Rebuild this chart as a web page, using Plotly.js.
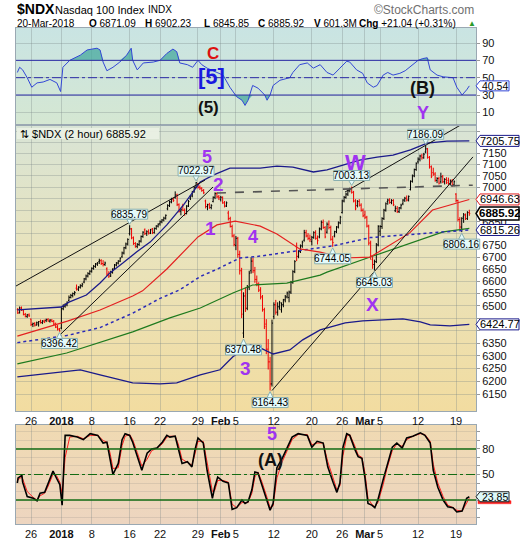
<!DOCTYPE html>
<html><head><meta charset="utf-8">
<script src="https://cdn.plot.ly/plotly-3.0.1.min.js"></script>
<style>
html,body{margin:0;padding:0;background:#fff;}
#wrap{position:relative;width:520px;height:540px;overflow:hidden;}
.bg{position:absolute;left:16px;width:460px;}
#chart{position:absolute;left:0;top:0;width:520px;height:540px;}
</style></head><body>
<div id="wrap">
<div class="bg" style="top:28px;height:97px;background:linear-gradient(#C9E4E3,#D5E7D2);"></div>
<div class="bg" style="top:125px;height:286px;background:linear-gradient(#D8E4D6,#E9E3BC 45%,#F2DCA0);"></div>
<div class="bg" style="top:425px;height:99px;background:linear-gradient(#F0DAB2,#EDD5C0);"></div>
<div id="chart"></div>
</div>
<script>
// ---------------- DATA ----------------
// 2-hour OHLC bars, 4 per trading day (Dec 21 2017 .. Mar 20 2018)
const open = [
6485,6471,6491,
6483,6465,6457,6463, 6446,6424,6428,6422, 6426,6436,6432,6438, 6441,6444,6438,6442,
6438,6426,6414,6406, 6410,6488,6498,6504, 6522,6534,6542,6550, 6572,6568,6576,6582,
6597,6610,6622,6632, 6642,6654,6662,6672, 6682,6686,6674,6670, 6652,6630,6622,6638,
6654,6668,6676,6684, 6702,6718,6740,6756, 6800,6820,6782,6758, 6746,6754,6768,6788,
6816,6800,6808,6802, 6820,6804,6822,6832, 6842,6850,6858,6866, 6906,6920,6936,6948,
6955,6966,6924,6896, 6918,6900,6886,6918, 6950,6962,6980,7000, 7014,7000,6996,6986,
6940,6916,6924,6912, 6938,6956,6972,6958, 6946,6956,6932,6918, 6888,6864,6830,6790,
6750,6780,6712,6644, 6390,6540,6490,6576, 6644,6684,6644,6608, 6584,6564,6536,6484,
6426,6326,6276,6190, 6456,6504,6474,6496, 6484,6504,6524,6536, 6534,6556,6596,6640,
6744,6704,6724,6748, 6772,6804,6790,6780, 6766,6784,6804,6780, 6786,6820,6848,6826,
6806,6840,6826,6776, 6790,6808,6828,6846, 6890,6940,6956,6970, 6988,6994,6978,6940,
6920,6938,6922,6900, 6880,6870,6832,6760, 6690,6670,6682,6752, 6810,6830,6864,6900,
6938,6944,6934,6942, 6898,6908,6894,6910, 6928,6944,6952,6944, 6990,7026,7050,7078,
7112,7124,7138,7130, 7156,7170,7132,7090, 7064,7058,7030,7038, 7024,7046,7024,7034,
7030,7016,7028,7010, 6970,6942,6860,6828, 6871.09,6880,6864,6890];
const high = [
6491,6497,6497,
6485,6471,6467,6469, 6448,6432,6434,6436, 6438,6444,6442,6444, 6448,6450,6446,6446,
6442,6432,6422,6410, 6494,6506,6510,6518, 6542,6548,6554,6560, 6587,6580,6588,6594,
6614,6628,6638,6646, 6658,6668,6676,6680, 6694,6692,6688,6682, 6658,6642,6644,6654,
6672,6680,6688,6700, 6724,6744,6762,6780, 6835.79,6824,6788,6764, 6760,6772,6792,6810,
6822,6814,6818,6820, 6824,6826,6836,6844, 6856,6862,6872,6882, 6926,6942,6954,6956,
6982,6972,6930,6910, 6928,6908,6922,6944, 6966,6984,7004,7022.97, 7018,7008,7000,6992,
6946,6928,6932,6926, 6960,6978,6978,6966, 6962,6960,6940,6938, 6898,6872,6838,6798,
6790,6786,6728,6656, 6555,6575,6585,6644, 6700,6698,6660,6624, 6596,6576,6544,6492,
6446,6366,6296,6444, 6514,6524,6514,6520, 6514,6528,6544,6558, 6562,6602,6646,6688,
6762,6730,6754,6770, 6816,6816,6802,6796, 6790,6810,6814,6792, 6826,6856,6860,6832,
6848,6856,6834,6790, 6812,6832,6852,6876, 6946,6962,6976,6990, 6998,7003.13,6984,6948,
6944,6948,6930,6908, 6898,6876,6838,6770, 6702,6690,6760,6836, 6836,6870,6906,6934,
6950,6952,6948,6948, 6920,6918,6914,6928, 6948,6958,6964,6964, 7030,7056,7082,7110,
7132,7144,7148,7152, 7186.09,7174,7138,7096, 7086,7066,7044,7046, 7064,7054,7040,7044,
7042,7034,7036,7030, 6974,6946,6870,6870, 6888,6886,6896,6902.23];
const low = [
6467,6469,6479,
6461,6453,6451,6455, 6418,6414,6416,6420, 6416,6428,6426,6430, 6434,6436,6432,6434,
6422,6410,6400,6396.42, 6405,6482,6492,6498, 6518,6530,6534,6542, 6562,6560,6570,6576,
6592,6604,6616,6626, 6636,6648,6656,6664, 6672,6668,6662,6664, 6622,6614,6618,6632,
6650,6662,6670,6680, 6698,6712,6734,6750, 6792,6776,6752,6740, 6738,6748,6762,6782,
6794,6790,6796,6798, 6798,6800,6816,6826, 6834,6844,6852,6860, 6900,6914,6930,6936,
6950,6918,6890,6878, 6896,6876,6882,6914, 6944,6956,6976,6996, 6994,6988,6980,6970,
6908,6900,6906,6904, 6934,6948,6952,6944, 6938,6928,6912,6914, 6856,6826,6784,6746,
6730,6698,6628,6450, 6370.48,6475,6482,6564, 6632,6634,6594,6580, 6556,6526,6476,6406,
6306,6246,6164.43,6180, 6446,6464,6460,6484, 6472,6494,6514,6530, 6514,6548,6590,6634,
6684,6696,6718,6740, 6766,6784,6772,6764, 6750,6778,6774,6754, 6780,6814,6820,6780,
6800,6818,6770,6744.05, 6784,6802,6822,6840, 6886,6934,6950,6962, 6978,6972,6934,6900,
6912,6916,6894,6870, 6862,6826,6750,6690, 6652,6645.03,6676,6746, 6790,6820,6858,6894,
6924,6928,6926,6918, 6892,6888,6888,6904, 6922,6936,6938,6938, 6986,7020,7044,7072,
7104,7114,7122,7126, 7150,7126,7082,7040, 7050,7024,7018,7012, 7016,7018,7012,7014,
7010,7008,7002,7004, 6934,6852,6818,6806.16, 6845.85,6858,6858,6876];
const close = [
6471,6491,6483,
6465,6457,6463,6459, 6424,6428,6422,6432, 6436,6432,6438,6434, 6444,6438,6442,6436,
6426,6414,6406,6398, 6488,6498,6504,6514, 6534,6542,6550,6554, 6568,6576,6582,6588,
6610,6622,6632,6642, 6654,6662,6672,6676, 6686,6674,6670,6676, 6630,6622,6638,6650,
6668,6676,6684,6696, 6718,6740,6756,6775, 6820,6782,6758,6746, 6754,6768,6788,6806,
6800,6808,6802,6816, 6804,6822,6832,6840, 6850,6858,6866,6878, 6920,6936,6948,6942,
6966,6924,6896,6902, 6900,6886,6918,6938, 6962,6980,7000,7020, 7000,6996,6986,6976,
6916,6924,6912,6920, 6956,6972,6958,6954, 6956,6932,6918,6932, 6864,6830,6790,6754,
6780,6712,6644,6466, 6540,6490,6576,6634, 6684,6644,6608,6590, 6564,6536,6484,6416,
6326,6276,6190,6430, 6504,6474,6496,6512, 6504,6524,6536,6552, 6556,6596,6640,6682,
6704,6724,6748,6764, 6804,6790,6780,6774, 6784,6804,6780,6770, 6820,6848,6826,6786,
6840,6826,6776,6762, 6808,6828,6846,6870, 6940,6956,6970,6984, 6994,6978,6940,6906,
6938,6922,6900,6876, 6870,6832,6760,6706, 6670,6682,6752,6830, 6830,6864,6900,6928,
6944,6934,6942,6924, 6908,6894,6910,6922, 6944,6952,6944,6960, 7026,7050,7078,7104,
7124,7138,7130,7146, 7170,7132,7090,7048, 7058,7030,7038,7018, 7046,7024,7034,7020,
7016,7028,7010,7024, 6942,6860,6828,6864.88, 6880,6864,6890,6885.92];

// overlays (trading-day index: 0 = Dec 26)
const upperDay = [-1.8,4,5,7.3,9.1,10.4,12.1,13.9,15.7,17.9,20.1,22.3,24,26.2,30.2,32.4,34.5,37.2,39,41,43.3,45.6,47.7,50,52.2,54.8,57.75];
const upper    = [6483,6495,6515,6544,6593,6635,6676,6722,6764,6837,6923,7023,7053,7084,7084,7093,7089,7067,7076,7098,7120,7133,7142,7165,7196,7205,7205.75];
const lowerDay = [-1.8,6.5,9.1,13.4,17,19.2,22.3,24.9,26.6,28.9,30.2,31.9,34.1,35.8,38.1,39,41.4,43.7,49,51.3,52.6,55.2,57.75];
const lower    = [6217,6245,6225,6194,6190,6194,6225,6245,6296,6343,6331,6307,6323,6363,6403,6411,6431,6439,6447,6435,6423,6419,6424.77];
const midDay   = [-1.8,4.7,9.1,13.4,17,19.6,22.3,24.5,27.5,30.2,33.9,38.1,39.8,44.7,48.6,53.9,57.75];
const mid      = [6352,6380,6412,6470,6530,6565,6620,6650,6697,6705,6722,6739,6748,6783,6794,6806,6815.26];
const redDay   = [-1.8,4.8,9.1,13.4,14.7,17.9,22,24.5,26.9,30.2,32.4,35.4,38.1,41.1,44.7,46.9,49.9,52.9,56.5,57.75];
const redMA    = [6378,6438,6483,6540,6561,6651,6786,6837,6853,6832,6798,6735,6722,6697,6701,6743,6803,6901,6935,6946.63];
const greenDay = [-1.8,4.7,13.4,18.3,22.3,26.6,29.2,33.7,38.1,39,44.7,49.9,54.3,57.75];
const greenMA  = [6268,6311,6395,6451,6491,6552,6585,6593,6626,6638,6701,6760,6807,6822];

// RSI (top panel)
const rsiDay = [-1.8,-1.5,-1.1,-0.5,0.1,0.8,1.6,2.5,3.4,3.9,4.2,5.1,6.5,7.4,8.7,9.1,9.5,10,10.8,11.7,12.6,13.2,13.4,14,14.8,16.1,17,17.9,18.7,19.2,19.6,20.6,21.3,22,22.5,23.2,24.5,25.3,26.2,27.1,27.8,28.2,28.6,29.2,29.9,30.8,31.1,31.5,31.9,32.8,34.1,34.5,35.4,36.4,37.2,38.1,39,39.8,40.7,41.6,42,42.9,43.7,44.3,45.1,45.6,46.4,47,47.7,48.6,49.3,49.9,51,51.6,52.2,52.6,53.5,54.3,55.6,56.1,56.8,57.4,57.75];
const rsiVal = [56,62,59,50,39,44,45,48,44,34,62,70,76,82,84,82,68,58,62,68,76,84,70,59,67,68,70,78,83,80,67,65,62,70,65,61,56,53,39,28,24,18,24,41,38,30,24,30,41,47,50,56,65,67,61,65,56,53,61,69,68,59,55,44,39,41,53,56,53,55,58,62,70,72,73,59,53,51,50,39,30,36,40.54];

// Slow stochastic (bottom panel)
const stochDay = [-1.8,-1.7,-1.2,-1.1,-0.5,0.3,0.8,1.2,1.8,2.2,2.8,2.9,3.4,3.8,4.1,4.5,5.1,6.1,6.9,7.8,8.8,9.5,10,10.4,10.8,11.5,12,12.4,13,13.4,14,14.6,15.3,15.9,16.6,17.3,17.9,18.3,19,19.4,19.9,20.6,21.2,21.6,22,22.7,23.2,23.9,24.2,24.6,25.3,26,26.5,27.1,27.8,28.2,28.6,29.1,29.5,29.9,30.4,31.1,31.5,31.9,32.4,33.1,33.7,34.4,35.2,36.4,37,37.7,38.5,39.1,39.8,40.3,40.7,41.1,41.6,42,42.7,43.1,43.6,44,44.4,44.9,45.3,45.7,46.4,46.9,47.6,48.2,48.9,49.5,50.3,51.3,51.9,52.6,53,53.6,54.3,54.9,55.6,56.1,56.8,57.4,57.75];
const stochK = [40,46,49,41,24,22,19,28,29,38,53,54,45,38,14,96,96,94,91,98,96,87,88,71,50,63,91,98,96,88,71,55,75,80,81,88,96,94,95,82,63,65,59,79,93,87,55,22,35,47,42,40,9,11,20,16,18,32,53,52,38,18,8,16,58,69,81,94,98,96,82,89,87,59,41,29,40,82,98,96,79,71,69,46,16,14,11,20,44,61,82,87,81,93,95,99,96,87,55,35,20,12,11,6,7,22,23.85];
const stochD = [42,44,47,45,30,23,20,25,28,35,48,53,48,41,28,70,94,95,92,96,96,90,88,76,57,58,84,95,97,91,76,60,68,78,81,86,94,95,95,86,68,64,61,74,89,89,63,30,31,43,43,41,15,11,17,17,17,28,47,53,42,23,11,13,46,65,78,91,97,97,85,87,87,65,46,32,37,72,95,97,83,73,70,52,22,15,12,17,38,57,78,86,83,91,95,98,97,89,62,40,24,14,11,8,7,17,22];

// drawn trend lines [day0, price0, day1, price1]
const trendLines = [[-4.08,6544,22.92,7031],[3.82,6383,23.98,7001],[31.75,6164.43,58.23,7134],[41.37,6979,56.92,7284]];
const dashedLine = [24.5,6975,58.2,7009];

// labels
const tickDays = [0,4,8,13,17,22,25,27,32,37,41,44,46,51,56];
const tickText = ['26','<b>2018</b>','8','16','22','29','<b>Feb</b>','5','12','20','26','<b>Mar</b>','5','12','19'];
const calloutHigh = [6835.79,7022.97,7003.13,7186.09];
const calloutLow  = [6396.42,6370.48,6164.43,6744.05,6645.03,6806.16];

// ---------------- DRAWING ----------------
const FONT = 'Liberation Sans, Arial, sans-serif';
const PURPLE = '#A033F0';
const GRID = 'rgba(120,135,135,0.32)';
const BORDER = '#9AA8B2';
const XR = [-1.976, 58.63], R_ST = [-8.2, 108.2], R_RSI = [-4.6, 107.3];
const LOGTOP = 3.86199, LOGBOT = 3.78434;
const PX = x => (x - 16) / 460;
const PY = y => (524 - y) / 496;
const L10 = Math.log10;
const last = a => a[a.length - 1];
const barX = close.map((_, i) => -1.75 + 0.25 * i);
// pixel helpers (for boxes drawn as shapes)
const xPix = d => 16 + (d - XR[0]) / (XR[1] - XR[0]) * 460;
const mainPix = v => 125 + (LOGTOP - L10(v)) / (LOGTOP - LOGBOT) * 286;
const rsiPix = v => 28 + (R_RSI[1] - v) / (R_RSI[1] - R_RSI[0]) * 97;
const stPix = v => 425 + (R_ST[1] - v) / (R_ST[1] - R_ST[0]) * 99;

const traces = [];
// RSI
const none = {width:0, color:'rgba(0,0,0,0)'};
traces.push({x: rsiDay, y: rsiDay.map(() => 70), xaxis:'x3', yaxis:'y3', mode:'lines', line:none, hoverinfo:'skip'});
traces.push({x: rsiDay, y: rsiVal.map(v => Math.max(v, 70)), xaxis:'x3', yaxis:'y3', mode:'lines', line:none, fill:'tonexty', fillcolor:'rgba(70,168,158,0.75)', hoverinfo:'skip'});
traces.push({x: rsiDay, y: rsiDay.map(() => 30), xaxis:'x3', yaxis:'y3', mode:'lines', line:none, hoverinfo:'skip'});
traces.push({x: rsiDay, y: rsiVal.map(v => Math.min(v, 30)), xaxis:'x3', yaxis:'y3', mode:'lines', line:none, fill:'tonexty', fillcolor:'rgba(70,168,158,0.75)', hoverinfo:'skip'});
traces.push({x: rsiDay, y: rsiVal, xaxis:'x3', yaxis:'y3', mode:'lines', line:{color:'#3347D6', width:1}});

// Main overlays
const ml = (x, y, color, width, dash) => ({x, y, xaxis:'x2', yaxis:'y2', mode:'lines', line:{color, width, dash: dash || 'solid'}});
traces.push(ml(greenDay, greenMA, '#1E7A1E', 1.2));
traces.push(ml(midDay, mid, '#2A2AB8', 1.5, 'dot'));
traces.push(ml(redDay, redMA, '#E42020', 1.2));
traces.push(ml(upperDay, upper, '#1A1A8A', 1.3));
traces.push(ml(lowerDay, lower, '#1A1A8A', 1.3));
traces.push({type:'ohlc', x: barX, open, high, low, close, xaxis:'x2', yaxis:'y2',
  increasing:{line:{color:'#000000', width:1}}, decreasing:{line:{color:'#F00000', width:1}}, tickwidth:0.5, hoverinfo:'skip'});
trendLines.forEach(t => traces.push(ml([t[0], t[2]], [t[1], t[3]], '#111111', 1)));
traces.push(ml([dashedLine[0], dashedLine[2]], [dashedLine[1], dashedLine[3]], '#555555', 1.6, 'dash'));

// Stochastic
traces.push({x: stochDay, y: stochD, xaxis:'x', yaxis:'y', mode:'lines', line:{color:'#FF2020', width:1}});
traces.push({x: stochDay, y: stochK, xaxis:'x', yaxis:'y', mode:'lines', line:{color:'#000000', width:1.6}});

const xCommon = {range:XR, tickmode:'array', tickvals: tickDays, ticktext: tickText, tickangle:0,
  showgrid:true, gridcolor:GRID, gridwidth:1, zeroline:false, showline:true, linecolor:BORDER, linewidth:1, mirror:true,
  ticks:'', tickfont:{family:FONT, size:11, color:'#111'}, fixedrange:true, automargin:false};

// right-side value boxes (values from the series' last points)
const boxes = [
  {v:last(upper), pix:mainPix(last(upper)), border:'#1A1A8A'},
  {v:last(redMA), pix:mainPix(last(redMA)), border:'#E42020'},
  {v:last(close), pix:mainPix(last(close)), border:'#000', bold:true},
  {v:last(mid), pix:mainPix(last(mid)), border:'#1A1A8A'},
  {v:last(lower), pix:mainPix(last(lower)), border:'#1A1A8A'},
  {v:last(rsiVal), pix:rsiPix(last(rsiVal)), border:'#3347D6'},
  {v:last(stochK), pix:stPix(last(stochK)), border:'#222', bg:'#DDF8F8', under:'#FF2020'}
];
const mainBoxPix = boxes.slice(0, 5).map(b => b.pix);

const mainTicks = []; for (let v = 6150; v <= 7250; v += 50) mainTicks.push(v);
const mainText = mainTicks.map(v => (v >= 7250 || mainBoxPix.some(p => Math.abs(p - mainPix(v)) < 7.5)) ? '' : String(v));
const stochTicks = []; for (let v = 0; v <= 100; v += 10) stochTicks.push(v);

const yCommon = {side:'right', showgrid:true, gridcolor:GRID, gridwidth:1, zeroline:false, showline:true, linecolor:BORDER, mirror:true,
  ticks:'outside', ticklen:3, tickcolor:'#999', tickfont:{family:FONT, size:11, color:'#111'}, fixedrange:true, automargin:false, tickmode:'array'};

const shapes = [];
const hline = (yref, y, color, dash, w) => shapes.push({type:'line', xref:'paper', x0:0, x1:1, yref, y0:y, y1:y, line:{color, width:w || 1, dash: dash || 'solid'}, layer:'above'});
hline('y3', 70, '#2B2BA8'); hline('y3', 30, '#2B2BA8'); hline('y3', 50, '#2B2BA8', 'dashdot');
hline('y', 80, '#146C14', null, 1.3); hline('y', 20, '#146C14', null, 1.3); hline('y', 50, '#146C14', 'dashdot', 1.2);
const pathP = pts => 'M' + pts.map(p => PX(p[0]).toFixed(5) + ',' + PY(p[1]).toFixed(5)).join('L') + 'Z';
const pathShape = (pts, fill, border, w) => shapes.push({type:'path', xref:'paper', yref:'paper', path: pathP(pts), fillcolor: fill, line:{color: border, width: w}, layer:'above'});

const ann = [];
const txt = (t, x, y, size, color, xanchor, extra) => ann.push(Object.assign({text:t, xref:'paper', yref:'paper', x:PX(x), y:PY(y), xanchor: xanchor || 'center', yanchor:'middle', showarrow:false, font:{family:FONT, size, color}}, extra || {}));

// header
txt('<b>$NDX</b>', 15, 9, 14, '#000', 'left');
txt('Nasdaq 100 Index', 53, 10, 11, '#000', 'left');
txt('INDX', 146, 10, 10, '#000', 'left');
const dO = open[close.length - 4], dH = Math.max(...high.slice(-4)), dL = Math.min(...low.slice(-4)), dC = last(close), prevC = close[close.length - 5];
const chg = dC - prevC;
txt('20-Mar-2018', 15, 23, 10, '#000', 'left');
txt('<b>O</b> ' + dO.toFixed(2), 87, 23, 10, '#000', 'left');
txt('<b>H</b> ' + dH.toFixed(2), 143, 23, 10, '#000', 'left');
txt('<b>L</b> ' + dL.toFixed(2), 202, 23, 10, '#000', 'left');
txt('<b>C</b> ' + dC.toFixed(2), 256, 23, 10, '#000', 'left');
txt('<b>V</b> 601.3M', 312, 23, 10, '#000', 'left');
txt('<b>Chg</b> +' + chg.toFixed(2) + ' (+' + (chg / prevC * 100).toFixed(2) + '%)', 357, 23, 10, '#000', 'left');
txt('▲', 472, 23, 8, '#2A9A2A', 'center');
txt('©StockCharts.com', 476, 10, 12, '#707070', 'right');
pathShape([[17,128],[159,128],[159,139],[17,139]], 'rgba(234,240,228,0.95)', 'rgba(0,0,0,0)', 0);
txt('⇅ $NDX (2 hour) ' + dC.toFixed(2), 18, 134, 11, '#000', 'left');

// wave labels
[['5',207,157,18,PURPLE],['2',218,184,19,PURPLE],['1',210,228,19,PURPLE],['4',253,237,18,PURPLE],['3',245,368,19,PURPLE],
 ['W',355,162,22,PURPLE],['X',372,304,19,PURPLE],['Y',423,113,18,PURPLE],['C',213,53,17,'#DD1111'],['[5]',211,77,22,'#1A1AE0'],
 ['(5)',208,107,17,'#111'],['(B)',422,88,18,'#111'],['(A)',270,460,18,'#111'],['5',272,434,18,PURPLE]]
 .forEach(a => txt('<b>' + a[0] + '</b>', a[1], a[2], a[3], a[4]));

// price callouts (box + pointer drawn as shapes, text as annotation)
const callout = (v, i, above) => {
  const px = xPix(barX[i]), py = mainPix(v);
  const w = 36, h = 10;
  const cy = above ? py - 11 : py + 12;
  const edge = above ? cy + h / 2 : cy - h / 2;
  pathShape([[px - w/2, cy - h/2], [px + w/2, cy - h/2], [px + w/2, cy + h/2], [px - w/2, cy + h/2]], '#E4FAFA', '#8AB0B0', 1);
  pathShape([[px - 3, edge], [px, above ? py - 1 : py + 1], [px + 3, edge]], '#E4FAFA', '#8AB0B0', 1);
  txt(v.toFixed(2), px, cy, 10, '#000', 'center');
};
calloutHigh.forEach(v => callout(v, high.indexOf(v), true));
calloutLow.forEach(v => callout(v, low.indexOf(v), false));

boxes.forEach(b => {
  const s = b.v.toFixed(2), h = b.bold ? 13 : (s.length > 5 ? 11 : 10), y = b.pix;
  const x1 = s.length > 5 ? 519 : 509;
  if (b.under) pathShape([[478, y + h/2 - 1], [x1 + 2, y + h/2 - 1], [x1 + 2, y + h/2 + 2], [478, y + h/2 + 2]], b.under, b.under, 0.5);
  pathShape([[476, y], [480, y - h/2], [x1, y - h/2], [x1, y + h/2], [480, y + h/2]], b.bg || '#FFFFFF', b.border, b.bold ? 1.5 : 1);
  txt(b.bold ? '<b>' + s + '</b>' : s, (480 + x1) / 2 + 0.5, y, b.bold ? 11.5 : (s.length > 5 ? 11 : 10.5), '#000', 'center');
});

const layout = {
  width:520, height:540, margin:{l:16, r:44, t:28, b:16, pad:0},
  paper_bgcolor:'rgba(0,0,0,0)', plot_bgcolor:'rgba(0,0,0,0)', showlegend:false, hovermode:false,
  xaxis: Object.assign({}, xCommon, {anchor:'y', domain:[0,1]}),
  xaxis2: Object.assign({}, xCommon, {anchor:'y2', domain:[0,1], rangeslider:{visible:false}}),
  xaxis3: Object.assign({}, xCommon, {anchor:'y3', domain:[0,1], showticklabels:false}),
  yaxis: Object.assign({}, yCommon, {anchor:'x', domain:[0, 0.1996], range:R_ST, tickvals: stochTicks,
    ticktext: stochTicks.map(v => (v === 50 || v === 80) ? String(v) : ''), gridcolor:'rgba(120,120,120,0.18)'}),
  yaxis2: Object.assign({}, yCommon, {anchor:'x2', type:'log', domain:[0.2278, 0.8044], range:[LOGBOT, LOGTOP], tickvals: mainTicks, ticktext: mainText}),
  yaxis3: Object.assign({}, yCommon, {anchor:'x3', domain:[0.8044, 1], range:R_RSI, tickvals:[10,30,50,70,90], ticktext:['10','30','50','70','90']}),
  shapes, annotations: ann
};

Plotly.newPlot('chart', traces, layout, {displayModeBar:false, staticPlot:true});
</script>
</body></html>
